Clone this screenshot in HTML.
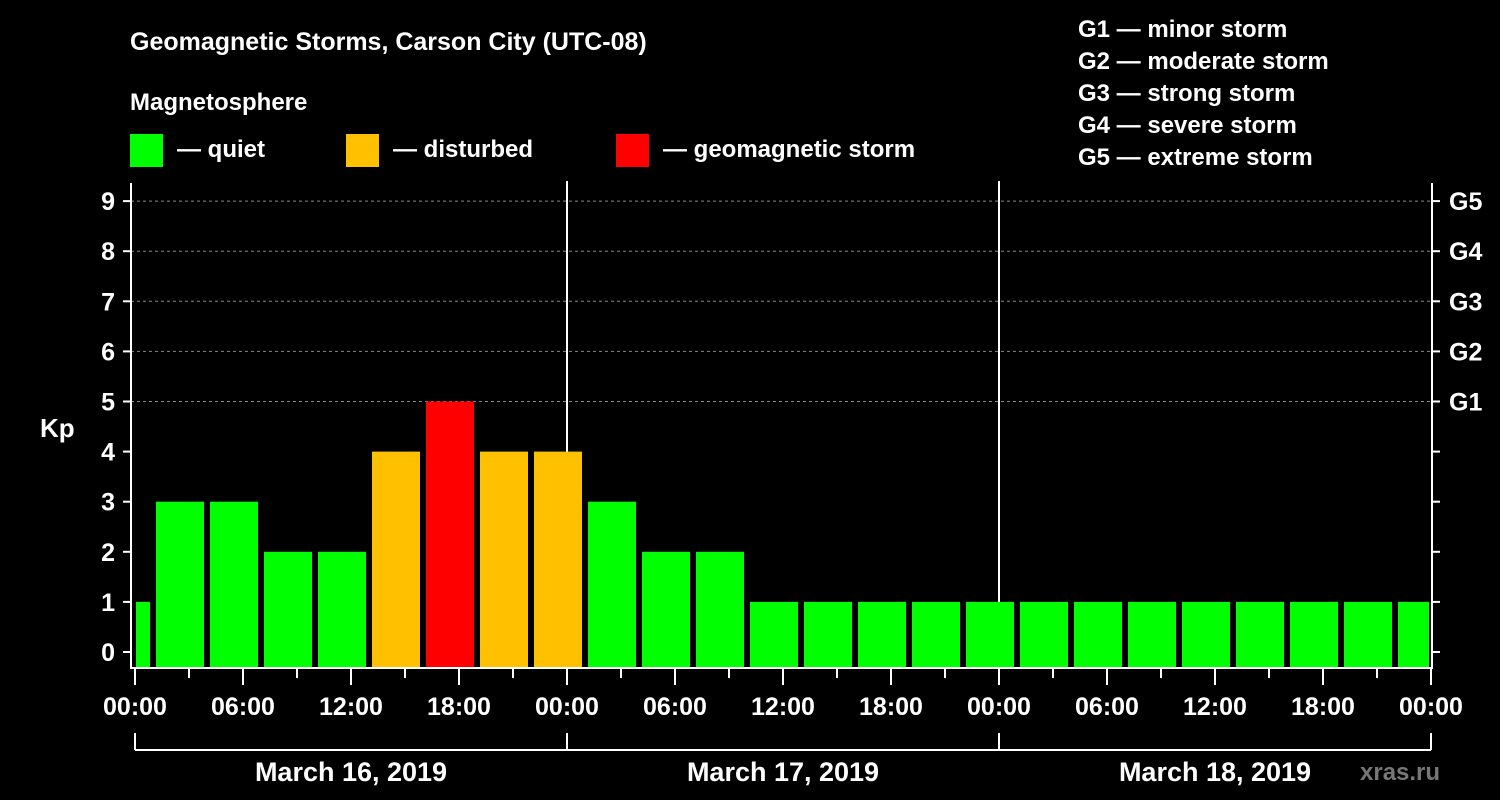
<!DOCTYPE html>
<html><head><meta charset="utf-8"><style>
html,body{margin:0;padding:0;background:#000;}
svg{display:block;font-family:"Liberation Sans",Arial,sans-serif;font-weight:bold;}
</style></head><body>
<svg id="chart" width="1500" height="800" viewBox="0 0 1500 800">
<rect width="1500" height="800" fill="#000"/>
<text x="130" y="50" fill="#fff" font-size="25">Geomagnetic Storms, Carson City (UTC-08)</text>
<text x="130" y="110" fill="#fff" font-size="24">Magnetosphere</text>
<g><rect x="130" y="134" width="33" height="33" fill="#00ff00"/><text x="177" y="157" fill="#fff" font-size="24">— quiet</text></g>
<g><rect x="346" y="134" width="33" height="33" fill="#ffc000"/><text x="393" y="157" fill="#fff" font-size="24">— disturbed</text></g>
<g><rect x="616" y="134" width="33" height="33" fill="#ff0000"/><text x="663" y="157" fill="#fff" font-size="24">— geomagnetic storm</text></g>
<g fill="#fff" font-size="24">
<text x="1078" y="37">G1 — minor storm</text><text x="1078" y="69">G2 — moderate storm</text><text x="1078" y="101">G3 — strong storm</text><text x="1078" y="133">G4 — severe storm</text><text x="1078" y="165">G5 — extreme storm</text>
</g>
<text x="40" y="437" fill="#fff" font-size="26">Kp</text>
<text x="1360" y="780" fill="#777" font-size="24">xras.ru</text>
<g id="grid"></g><g id="bars"></g><g id="axes"></g>
</svg>
<script>
const kpValues=[1,3,3,2,2,4,5,4,4,3,2,2,1,1,1,1,1,1,1,1,1,1,1,1,1];
const barStartHours=[-2,1,4,7,10,13,16,19,22,25,28,31,34,37,40,43,46,49,52,55,58,61,64,67,70];
const yTicks=[0,1,2,3,4,5,6,7,8,9];
const gLabels=["G1","G2","G3","G4","G5"];
const timeLabels=["00:00","06:00","12:00","18:00","00:00","06:00","12:00","18:00","00:00","06:00","12:00","18:00","00:00"];
const dayLabels=["March 16, 2019","March 17, 2019","March 18, 2019"];
const NS="http://www.w3.org/2000/svg";
const X0=135,PX_H=18,PL=131,PR=1432,PT=183,PB=668;
const x=h=>X0+h*PX_H;
const y=v=>652-v*50.1;
function mk(p,tag,a){const e=document.createElementNS(NS,tag);for(const k in a)e.setAttribute(k,a[k]);p.appendChild(e);return e;}
const grid=document.getElementById('grid'),bars=document.getElementById('bars'),axes=document.getElementById('axes');
for(let v=5;v<=9;v++){const l=mk(grid,'line',{x1:PL,x2:PR,y1:y(v),y2:y(v),stroke:'#888','stroke-dasharray':'3,3','stroke-width':1});

}
[24,48].forEach(h=>{const l=mk(grid,'line',{x1:x(h),x2:x(h),y1:181,y2:PB,stroke:'#fff','stroke-width':2});

});
kpValues.forEach((v,i)=>{const s=barStartHours[i];let x1=Math.max(x(s)+3,136),x2=Math.min(x(s+3)-3,1429);
const c=v>=5?'#ff0000':(v==4?'#ffc000':'#00ff00');
const r=mk(bars,'rect',{x:x1,y:y(v),width:x2-x1,height:PB-y(v),fill:c});

});
mk(axes,'line',{x1:PL,x2:PL,y1:PT,y2:PB+1,stroke:'#fff','stroke-width':2});
mk(axes,'line',{x1:PR,x2:PR,y1:PT,y2:PB+1,stroke:'#fff','stroke-width':2});
mk(axes,'line',{x1:PL,x2:PR,y1:PB,y2:PB,stroke:'#fff','stroke-width':2});
yTicks.forEach(v=>{mk(axes,'line',{x1:123,x2:PL,y1:y(v),y2:y(v),stroke:'#fff','stroke-width':2});
mk(axes,'line',{x1:PR,x2:1440,y1:y(v),y2:y(v),stroke:'#fff','stroke-width':2});
const t=mk(axes,'text',{x:115,y:y(v)+9,fill:'#fff','font-size':25,'text-anchor':'end'});t.textContent=v;

});
gLabels.forEach((g,i)=>{const t=mk(axes,'text',{x:1449,y:y(5+i)+9,fill:'#fff','font-size':25});t.textContent=g;

});
for(let h=0;h<=72;h+=3){mk(axes,'line',{x1:x(h),x2:x(h),y1:PB,y2:h%6==0?685:678,stroke:'#fff','stroke-width':2});}
timeLabels.forEach((s,i)=>{const t=mk(axes,'text',{x:x(i*6),y:715,fill:'#fff','font-size':25,'text-anchor':'middle'});t.textContent=s;

});
mk(axes,'line',{x1:x(0),x2:x(72),y1:750,y2:750,stroke:'#fff','stroke-width':2});
[0,24,48,72].forEach(h=>mk(axes,'line',{x1:x(h),x2:x(h),y1:733,y2:750,stroke:'#fff','stroke-width':2}));
dayLabels.forEach((d,i)=>{const t=mk(axes,'text',{x:x(i*24+12),y:781,fill:'#fff','font-size':27,'text-anchor':'middle'});t.textContent=d;

});
</script>
</body></html>
